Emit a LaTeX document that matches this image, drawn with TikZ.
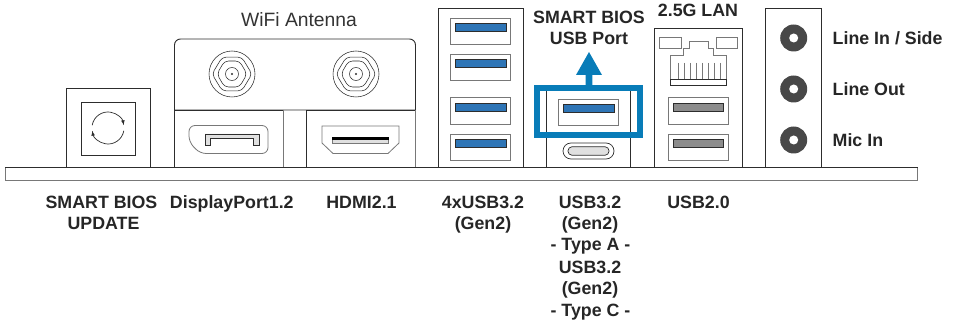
\documentclass[tikz,border=0pt]{standalone}
\usepackage{fontspec}
\setmainfont{Liberation Sans}
\usetikzlibrary{calc}
\definecolor{linedark}{RGB}{45, 45, 45}
\definecolor{linegray}{RGB}{120, 120, 120}
\definecolor{slotblue}{RGB}{46, 117, 182}
\definecolor{markblue}{RGB}{8, 124, 184}
\definecolor{slotgray}{RGB}{140, 140, 140}
\definecolor{jackgray}{RGB}{72, 72, 72}
\begin{document}
\begin{tikzpicture}[x=1pt, y=-1pt,
        panel/.style={draw=linedark, line width=0.9pt, fill=white},
        usbport/.style={rectangle, draw=linegray, line width=1pt, fill=white, minimum width=60pt, minimum height=26.5pt, inner sep=0pt},
        usbslot/.style={rectangle, draw=linedark, line width=0.8pt, fill=slotblue, minimum width=50.5pt, minimum height=8.5pt, inner sep=0pt},
        grayslot/.style={usbslot, fill=slotgray},
        jack/.style={circle, fill=jackgray, minimum size=27pt, inner sep=0pt},
        jackhole/.style={circle, fill=white, minimum size=9pt, inner sep=0pt},
        ring/.style={draw=linedark, line width=0.55pt},
        title/.style={font=\fontsize{17.8}{20}\selectfont\bfseries, text=black!85, inner sep=0pt, text height=13pt, text depth=0pt},
        sidetitle/.style={title, anchor=west},
        wifititle/.style={font=\fontsize{19.3}{22}\selectfont, text=black!80, inner sep=0pt, text height=14pt, text depth=0pt}
    ]
        \useasboundingbox (0, 0) rectangle (954, 323);

        % update button
        \node[panel, rectangle, minimum width=84pt, minimum height=79pt, inner sep=0pt] (update) at (108, 127.5) {};
        \node[panel, rectangle, minimum width=54pt, minimum height=53pt, inner sep=0pt] (updatein) at (108, 128.5) {};
        \draw[ring, line width=0.7pt, -latex] (92.2, 125.2) arc (190:350:16);
        \draw[ring, line width=0.7pt, -latex] (123.8, 130.8) arc (10:170:16);

        % wifi panel
        \draw[panel] (174.5, 110) [rounded corners=6pt] -- (174.5, 39) -- (415.5, 39) [sharp corners] -- (415.5, 110) -- cycle;
        \node[panel, rectangle, minimum width=108.5pt, minimum height=57pt, inner sep=0pt] (dpbox) at (228.75, 138.5) {};
        \node[panel, rectangle, minimum width=109.5pt, minimum height=57pt, inner sep=0pt] (hdmibox) at (360.75, 138.5) {};
        \draw[linegray, line width=1pt] (283, 110) -- (283, 167);
        \draw[linegray, line width=1.2pt] (415.5, 110) -- (415.5, 167);
        \foreach \ax/\nm in {232/anta, 356/antb} {
            \coordinate (\nm) at (\ax, 74);
            \draw[ring] (\nm) circle (23);
            \draw[ring] (\nm) circle (6.5);
            \fill[linedark] (\nm) circle (1.2);
            \draw[ring, rounded corners=4pt] ($(\nm)+(0:20)$) -- ($(\nm)+(60:19.5)$) -- ($(\nm)+(120:19.5)$) -- ($(\nm)+(180:20)$) -- ($(\nm)+(240:19.5)$) -- ($(\nm)+(300:19.5)$) -- cycle;
            \draw[ring, rounded corners=4pt] ($(\nm)+(0:15)$) -- ($(\nm)+(60:15)$) -- ($(\nm)+(120:15)$) -- ($(\nm)+(180:15)$) -- ($(\nm)+(240:15)$) -- ($(\nm)+(300:15)$) -- cycle;
        }

        % displayport
        \draw[draw=linegray, line width=0.8pt, rounded corners=6pt] (189, 125.5) -- (268, 125.5) -- (268, 153.5) -- (200, 153.5) -- (189, 142) -- cycle;
        \draw[draw=linedark, line width=0.7pt, fill=black!12] (205, 134) -- (259, 134) -- (259, 145.5) -- (253.5, 145.5) -- (253.5, 138) -- (210.5, 138) -- (210.5, 145.5) -- (205, 145.5) -- cycle;

        % hdmi
        \draw[draw=linegray, line width=0.8pt] (322, 126) -- (399, 126) -- (399, 143) -- (388, 153.5) -- (333, 153.5) -- (322, 143) -- cycle;
        \node[rectangle, draw=linegray, line width=0.6pt, fill=black!12, minimum width=56.5pt, minimum height=6pt, inner sep=0pt] (hdmislot) at (360.5, 140.5) {};
        \fill[black] (hdmislot.north west) rectangle ($(hdmislot.east)+(0, -0.3)$);

        % usb stack
        \node[panel, rectangle, minimum width=84.5pt, minimum height=159pt, inner sep=0pt] (usbstack) at (480.75, 87.5) {};
        \node[usbport] (porta) at (480.5, 31.75) {};
        \node[usbport] (portb) at (480.5, 67.75) {};
        \node[usbport] (portc) at (480.5, 111.25) {};
        \node[usbport] (portd) at (480.5, 147.75) {};
        \node[usbslot] at (480.75, 27.5) {};
        \node[usbslot] at (480.75, 63.5) {};
        \node[usbslot] at (480.75, 107.5) {};
        \node[usbslot] at (480.75, 143.5) {};

        % smart bios port
        \draw[panel, fill=none] (546.7, 88) -- (546.7, 167);
        \draw[panel, fill=none] (630.7, 88) -- (630.7, 167);
        \node[usbport] (smartport) at (588.5, 112.5) {};
        \node[usbslot] at (589, 108.6) {};
        \node[rectangle, rounded corners=8pt, draw=linedark, line width=0.7pt, fill=white, minimum width=51pt, minimum height=16pt, inner sep=0pt] (typecout) at (588.5, 151) {};
        \node[rectangle, rounded corners=4pt, draw=linedark, line width=0.7pt, fill=black!12, minimum width=41pt, minimum height=8.5pt, inner sep=0pt] (typec) at (588.5, 151) {};
        \node[rectangle, draw=markblue, line width=6pt, minimum width=103pt, minimum height=47pt, inner sep=0pt] (mark) at (588.5, 111.5) {};
        \fill[markblue] (585.7, 85) -- (585.7, 75) -- (576, 75) -- (589, 52) -- (602, 75) -- (592.3, 75) -- (592.3, 85) -- cycle;

        % lan
        \node[panel, rectangle, minimum width=88pt, minimum height=139pt, inner sep=0pt] (lanbox) at (698, 97.5) {};
        \node[rectangle, draw=linegray, line width=0.8pt, minimum width=21.5pt, minimum height=11.2pt, inner sep=0pt] (leda) at (670.25, 43.1) {};
        \node[rectangle, draw=linegray, line width=0.8pt, minimum width=21pt, minimum height=11.2pt, inner sep=0pt] (ledb) at (726.5, 43.1) {};
        \draw[draw=linegray, line width=0.8pt] (670.7, 79.3) -- (670.7, 55) -- (683.3, 55) -- (683.3, 48) -- (689, 48) -- (689, 41.3) -- (708, 41.3) -- (708, 48.3) -- (713, 48.3) -- (713, 55) -- (726.7, 55) -- (726.7, 79.3);
        \draw[draw=linedark, line width=0.9pt] (670.7, 79.3) rectangle (726.7, 85.7);
        \foreach \px in {678.5, 684.5, 690.5, 696.5, 702.5, 708.5, 714.5, 720.5} {
            \draw[linegray, line width=0.8pt] (\px, 63) -- (\px, 79.3);
        }
        \node[usbport] (porte) at (698.3, 111.25) {};
        \node[usbport] (portf) at (698.3, 147.5) {};
        \node[grayslot] at (698.2, 107.4) {};
        \node[grayslot] at (698.2, 143.5) {};

        % audio
        \node[panel, rectangle, minimum width=56pt, minimum height=158.5pt, inner sep=0pt] (audiobox) at (793.7, 87.75) {};
        \node[jack] (linein) at (793.7, 38) {};
        \node[jack] (lineout) at (793.7, 89) {};
        \node[jack] (micin) at (793.7, 140) {};
        \node[jackhole] at (linein) {};
        \node[jackhole] at (lineout) {};
        \node[jackhole] at (micin) {};

        % board edge
        \draw[draw=linegray, line width=1pt, fill=white] (5, 167.5) rectangle (917.5, 181);
        \draw[linedark, line width=0.9pt] (5, 167.5) -- (917.5, 167.5);

        % labels
        \node[wifititle] (wifilabel) at (299, 20) {WiFi Antenna};
        \node[title] at (589, 17) {SMART BIOS};
        \node[title] at (589, 38.5) {USB Port};
        \node[title] at (698, 10) {2.5G LAN};
        \node[sidetitle] at (832.5, 38.5) {Line In / Side};
        \node[sidetitle] at (832.5, 89.5) {Line Out};
        \node[sidetitle] at (832.5, 140.5) {Mic In};
        \node[title] at (101.5, 202) {SMART BIOS};
        \node[title] at (103.5, 223.5) {UPDATE};
        \node[title] at (231.8, 202) {DisplayPort1.2};
        \node[title] at (361.5, 202) {HDMI2.1};
        \node[title] at (483, 202) {4xUSB3.2};
        \node[title] at (483, 223.5) {(Gen2)};
        \node[title] at (590, 202) {USB3.2};
        \node[title] at (590, 223.5) {(Gen2)};
        \node[title] at (590.5, 244.5) {- Type A -};
        \node[title] at (590, 266.8) {USB3.2};
        \node[title] at (590, 288.5) {(Gen2)};
        \node[title] at (590.5, 310.2) {- Type C -};
        \node[title] at (698.5, 202) {USB2.0};
    \end{tikzpicture}
\end{document}
